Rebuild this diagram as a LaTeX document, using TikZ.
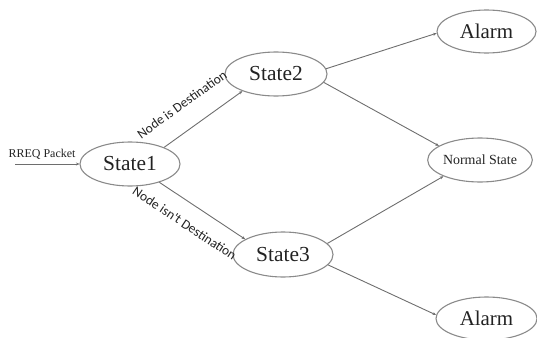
\documentclass[tikz,border=0pt]{standalone}
\usepackage{fontspec}
\setmainfont{Liberation Serif}
\newfontfamily\lblfont{Carlito}
\usetikzlibrary{arrows.meta,shapes.geometric}
\definecolor{edgegray}{HTML}{6E6E6E}
\definecolor{bordergray}{HTML}{8A8A8A}
\definecolor{txt}{HTML}{222222}
\begin{document}
\begin{tikzpicture}[x=1bp,y=1bp,
  stateell/.style={ellipse, draw=bordergray, line width=1.1bp, inner sep=0pt,
    minimum width=100bp, minimum height=44bp, text=txt,
    font=\fontsize{21.5}{22}\selectfont},
  smallell/.style={stateell, font=\fontsize{14}{15}\selectfont},
  conn/.style={draw=edgegray, line width=0.9bp, -{Stealth[length=3.5bp,width=3bp]}},
  elabel/.style={sloped, text=txt, font=\lblfont\fontsize{13.5}{14}\selectfont, inner xsep=0pt}
]
\useasboundingbox (0,0) rectangle (537,337);
\clip (0,0) rectangle (537,337);

\node[stateell] (s1) at (130,173) {State1};
\node[stateell, minimum width=102bp] (s2) at (276,263) {State2};
\node[stateell, minimum height=45bp] (s3) at (283,82.5) {State3};
\node[stateell, minimum width=99bp, minimum height=43bp, font=\fontsize{21}{22}\selectfont] (a1) at (486.5,305.5) {Alarm};
\node[smallell, minimum width=101bp] (ns) at (480,177) {Normal State};
\node[stateell, minimum width=101bp, minimum height=43bp, font=\fontsize{21}{22}\selectfont] (a2) at (486.5,18.5) {Alarm};

\coordinate (in) at (15,173);
\draw[conn] (in) -- node[above=1bp, pos=0.42, text=txt, font=\fontsize{12}{13}\selectfont] (rreq) {RREQ Packet} (s1.west);

\draw[conn] (s1.26) -- node[elabel, pos=0.41, anchor=south, inner ysep=19.5bp] (l1) {Node is Destination} (s2.207);
\draw[conn] (s1.-32.7) -- node[elabel, pos=0.425, anchor=north, inner ysep=15bp] (l2) {Node isn't Destination} (s3.158.4);

\draw[conn] (s2.6.6) -- (a1.182);
\draw[conn] (s2.-10.8) -- (ns.161.6);
\draw[conn] (s3.14.9) -- (ns.204.7);
\draw[conn] (s3.-13) -- (a2.176);
\end{tikzpicture}
\end{document}
